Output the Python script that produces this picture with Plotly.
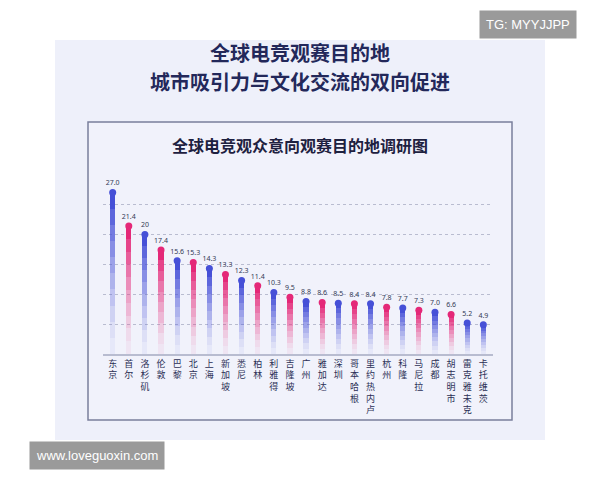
import plotly.graph_objects as go

cities = ["东京","首尔","洛杉矶","伦敦","巴黎","北京","上海","新加坡","悉尼","柏林","利雅得","吉隆坡",
          "广州","雅加达","深圳","哥本哈根","里约热内卢","杭州","科隆","马尼拉","成都","胡志明市","雷克雅未克","卡托维茨"]
values = [27.0,21.4,20,17.4,15.6,15.3,14.3,13.3,12.3,11.4,10.3,9.5,8.8,8.6,8.5,8.4,8.4,7.8,7.7,7.3,7.0,6.6,5.2,4.9]
labels = ["27.0","21.4","20","17.4","15.6","15.3","14.3","13.3","12.3","11.4","10.3","9.5","8.8","8.6","8.5","8.4","8.4","7.8","7.7","7.3","7.0","6.6","5.2","4.9"]
series_color = ["blue","pink"]*11 + ["blue","blue"]

BLUE = (70, 80, 215)
PINK = (228, 40, 120)
xs = list(range(len(cities)))
cols = [BLUE if c == "blue" else PINK for c in series_color]

OX, OY = 8, 8
def px(x): return (x - OX) / 600
def py(y): return 1 - (y - OY) / 480

fig = go.Figure()
N = 10
for k in range(N):
    a = 0.06 + 0.94 * (k / (N - 1)) ** 1.3
    fig.add_trace(go.Bar(
        x=xs, y=[v / N for v in values], width=0.32,
        marker=dict(color=[f"rgba({c[0]},{c[1]},{c[2]},{a:.3f})" for c in cols], line_width=0),
        hoverinfo="skip", showlegend=False))
fig.add_trace(go.Scatter(
    x=xs, y=values, mode="markers+text",
    marker=dict(size=7, color=[f"rgb{c}" for c in cols]),
    text=labels, textposition="top center", textfont=dict(size=7, color="#333a55", family="Noto Sans"),
    showlegend=False, hoverinfo="skip"))

tick = ["<br>".join(list(c)) for c in cities]
def ann(text, x, y, size, color, **kw):
    d = dict(text=text, x=px(x), y=py(y), xref="paper", yref="paper", showarrow=False,
             xanchor="center", yanchor="middle", font=dict(size=size, color=color))
    d.update(kw)
    return d

fig.update_layout(
    width=600, height=480, barmode="stack", bargap=0,
    paper_bgcolor="white", plot_bgcolor="rgba(0,0,0,0)",
    margin=dict(l=0, r=0, t=0, b=0),
    font=dict(family="Noto Sans CJK SC"),
    xaxis=dict(domain=[px(103), px(493)], range=[-0.6, 23.6], tickvals=xs, ticktext=tick,
               tickfont=dict(size=9, color="#2b2f55"), showgrid=False, ticks="",
               showline=True, linecolor="#b8bcd0", linewidth=1.5),
    yaxis=dict(domain=[py(354), py(177)], range=[0, 29.6], dtick=5, showticklabels=False,
               gridcolor="#b9bcd0", griddash="dot", zeroline=False),
    shapes=[
        dict(type="rect", xref="paper", yref="paper", x0=px(55), x1=px(545), y0=py(440), y1=py(40),
             fillcolor="#eef0fa", line_width=0, layer="below"),
        dict(type="rect", xref="paper", yref="paper", x0=px(88), x1=px(512), y0=py(420), y1=py(122),
             fillcolor="#f1f2fb", line=dict(color="#7a7f9c", width=1.5), layer="below"),
    ],
    annotations=[
        ann("<b>全球电竞观赛目的地</b>", 300, 52, 20, "#23285a"),
        ann("<b>城市吸引力与文化交流的双向促进</b>", 300, 81, 20, "#23285a"),
        ann("<b>全球电竞观众意向观赛目的地调研图</b>", 300, 145, 16, "#1e2140"),
        ann("TG: MYYJJPP", 528, 25, 13, "white", bgcolor="#9a9a9a", borderpad=6,
            font=dict(size=13, color="white", family="Liberation Sans")),
        ann("www.loveguoxin.com", 97, 455, 13, "white", bgcolor="#9a9a9a", borderpad=6,
            font=dict(size=13, color="white", family="Liberation Sans")),
    ],
)
fig.write_html("out.html")
